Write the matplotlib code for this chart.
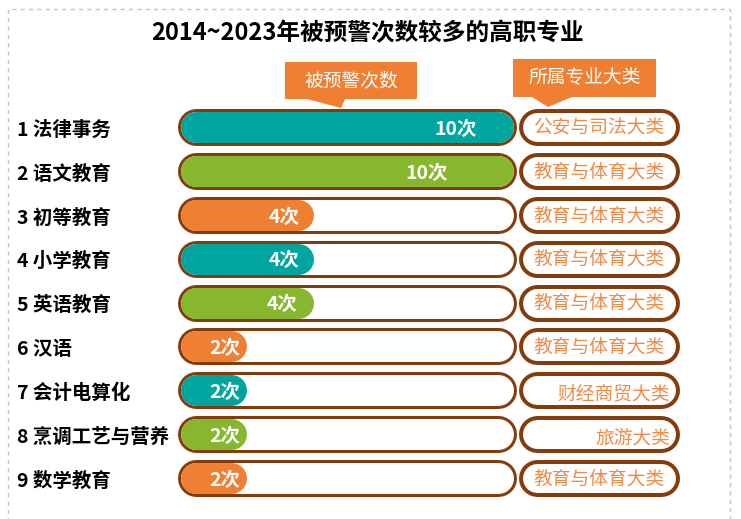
import matplotlib
matplotlib.use("Agg")
import matplotlib.pyplot as plt
from matplotlib import transforms
from matplotlib.patches import Polygon, Rectangle

plt.rcParams['font.family'] = ['Noto Sans CJK SC', 'DejaVu Sans']

# Data
majors = ["法律事务", "语文教育", "初等教育", "小学教育", "英语教育",
          "汉语", "会计电算化", "烹调工艺与营养", "数学教育"]
warn_counts = [10, 10, 4, 4, 4, 2, 2, 2, 2]
categories = ["公安与司法大类", "教育与体育大类", "教育与体育大类", "教育与体育大类",
              "教育与体育大类", "教育与体育大类", "财经商贸大类", "旅游大类", "教育与体育大类"]
title = "2014~2023年被预警次数较多的高职专业"
head_count = "被预警次数"
head_cat = "所属专业大类"

# Style
W, H, DPI = 741, 519, 100
teal, green, orange = "#00A59F", "#86B72F", "#EE7F33"
fill_colors = [teal, green, orange] * 3
brown = "#843C0C"
cat_text = "#F08A45"
label_pad_px = [36, 65, 14, 14, 16, 6, 6, 6, 6]
cat_align = ["center"] * 6 + ["right", "right", "center"]

fig = plt.figure(figsize=(W / DPI, H / DPI), dpi=DPI)


def fx(px):
    return px / W


def fy(py):
    return 1 - py / H


def pt(px):
    return px * 72 / DPI


# dashed frame
fig.patches.append(Rectangle((fx(8), fy(540)), fx(730) - fx(8), fy(9) - fy(540),
                             transform=fig.transFigure, fill=False,
                             edgecolor="#C4C4C4", lw=1, ls=(0, (3, 3))))

fig.text(fx(368), fy(33), title, ha="center", va="center",
         fontsize=17, fontweight="bold", color="black")

# bar axes: value 0 at px 180, value 10 at px 513.3; rows centred 127 .. 478
n = len(majors)
row_top, row_step = 127, (478 - 127) / (n - 1)
ax_top = row_top - row_step / 2
ax_bot = 478 + row_step / 2
x0_px, x10_px = 180, 513.3
ax = fig.add_axes([fx(x0_px), fy(ax_bot), fx(x10_px) - fx(x0_px), fy(ax_top) - fy(ax_bot)])
ax.set_xlim(0, 10)
ax.set_ylim(n - 0.5, -0.5)
ax.axis("off")
px_per_unit = (x10_px - x0_px) / 10

inner_h, outer_h = 31, 37
r_in = inner_h / 2 / px_per_unit
ring = (outer_h - inner_h) / 2 / px_per_unit

for i in range(n):
    # outline and empty track
    ax.plot([r_in - ring * 0, 10 - r_in], [i, i], color=brown, lw=pt(outer_h),
            solid_capstyle="round", clip_on=False, zorder=1)
    ax.plot([r_in, 10 - r_in], [i, i], color="white", lw=pt(inner_h),
            solid_capstyle="round", clip_on=False, zorder=2)
    # value fill
    ax.plot([r_in, warn_counts[i] - r_in], [i, i], color=fill_colors[i],
            lw=pt(inner_h), solid_capstyle="round", clip_on=False, zorder=3)
    ax.text(warn_counts[i] - label_pad_px[i] / px_per_unit, i + 0.05,
            f"{warn_counts[i]}次", ha="right", va="center", color="white",
            fontsize=14, fontweight="bold", zorder=4)

# row labels on the left
lab_tr = transforms.blended_transform_factory(fig.transFigure, ax.transData)
for i, m in enumerate(majors):
    ax.text(fx(17), i + 0.07, f"{i + 1} {m}", transform=lab_tr, ha="left",
            va="center", fontsize=14, fontweight="bold", color="black")

# category boxes
cax = fig.add_axes([fx(518), fy(ax_bot), fx(679) - fx(518), fy(ax_top) - fy(ax_bot)])
cax.set_xlim(0, 1)
cax.set_ylim(n - 0.5, -0.5)
cax.axis("off")
cpx = 679 - 518
c_in_h, c_out_h = 29, 37
cr = c_out_h / 2 / cpx
for i, c in enumerate(categories):
    cax.plot([cr, 1 - cr], [i, i], color=brown, lw=pt(c_out_h),
             solid_capstyle="round", clip_on=False, zorder=1)
    cax.plot([cr, 1 - cr], [i, i], color="white", lw=pt(c_in_h),
             solid_capstyle="round", clip_on=False, zorder=2)
    if cat_align[i] == "right":
        cax.text(1 - 9 / cpx, i + 0.1, c, ha="right", va="center",
                 fontsize=13.5, color=cat_text, zorder=3)
    else:
        cax.text(0.5, i + 0.02, c, ha="center", va="center",
                 fontsize=13.5, color=cat_text, zorder=3)


# callout headers
def callout(box, tip, text):
    l, t, r, b = box
    pts = [(l, t), (r, t), (r, b), (tip[2], b), (tip[1][0], tip[1][1]), (tip[0], b), (l, b)]
    fig.patches.append(Polygon([(fx(x), fy(y)) for x, y in pts], closed=True,
                               transform=fig.transFigure, facecolor=orange,
                               edgecolor="none", zorder=5))
    fig.text(fx((l + r) / 2), fy((t + b) / 2), text, ha="center", va="center",
             fontsize=13.5, color="white", zorder=6)


callout((285, 62, 417, 99), (307, (341, 108), 345), head_count)
callout((513, 59, 656, 97), (532, (548, 107), 572), head_cat)

fig.savefig("out.png", dpi=DPI)
